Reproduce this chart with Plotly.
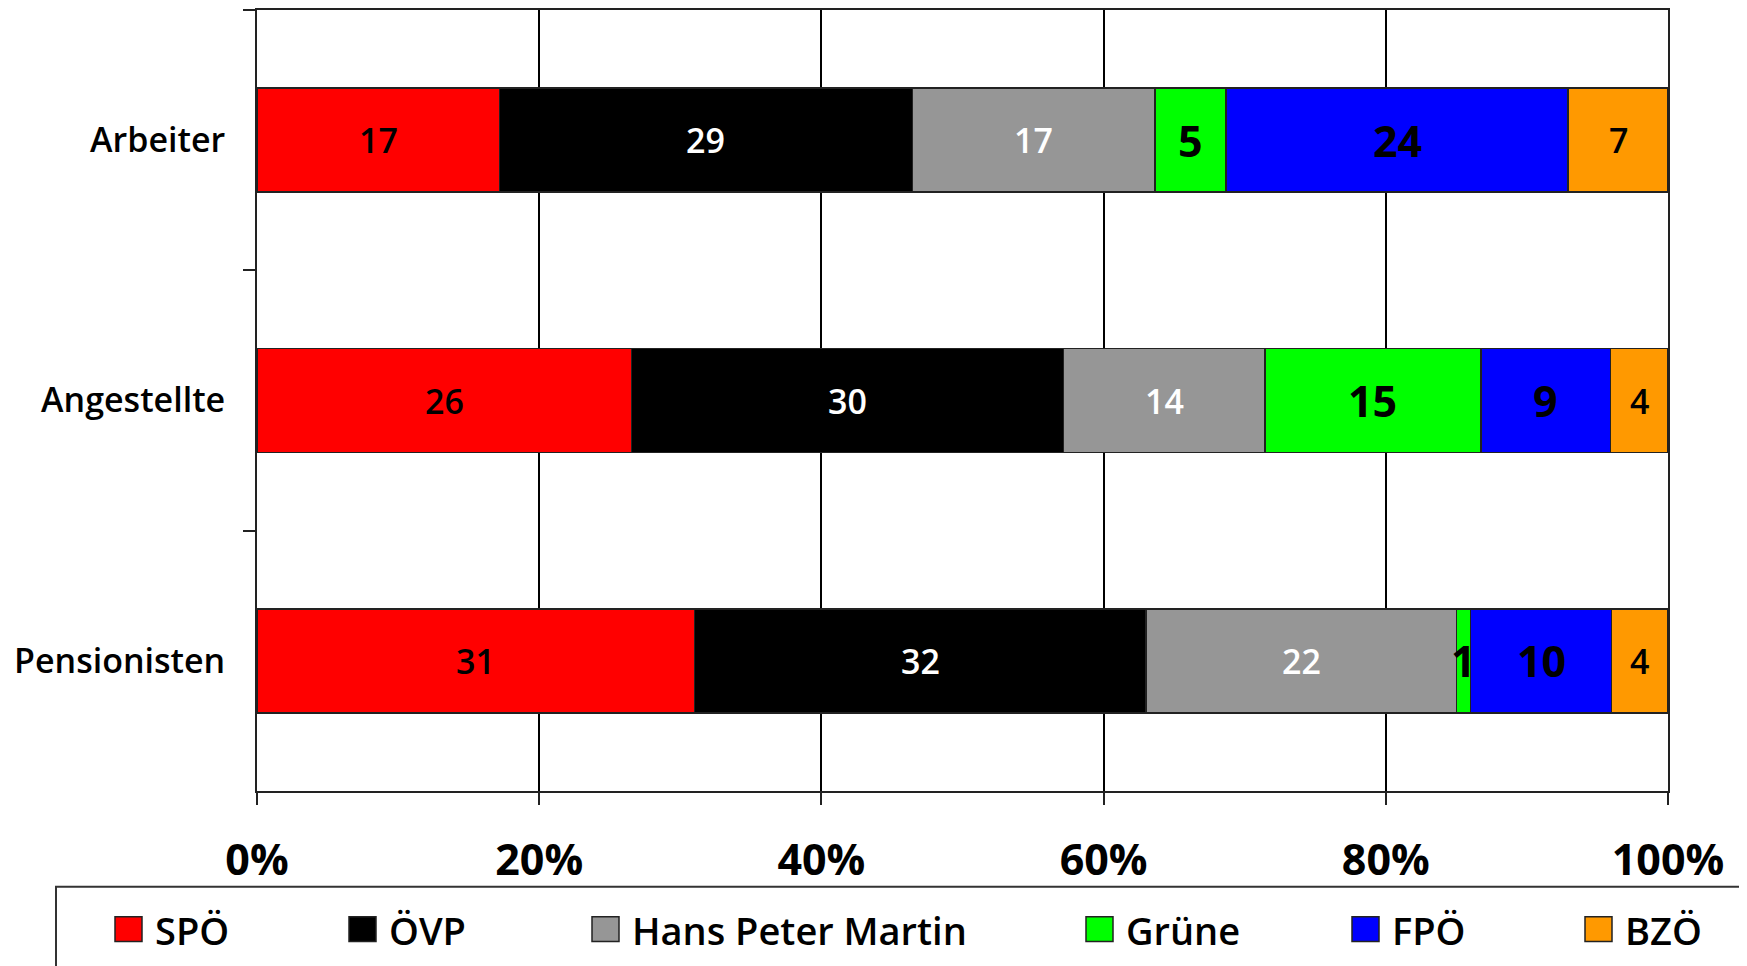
import plotly.graph_objects as go

categories = ["Arbeiter", "Angestellte", "Pensionisten"]
parties = ["SPÖ", "ÖVP", "Hans Peter Martin", "Grüne", "FPÖ", "BZÖ"]
spoe = [17, 26, 31]
oevp = [29, 30, 32]
hpm = [17, 14, 22]
gruene = [5, 15, 1]
fpoe = [24, 9, 10]
bzoe = [7, 4, 4]
x_ticks = [0, 20, 40, 60, 80, 100]
x_tick_labels = ["0%", "20%", "40%", "60%", "80%", "100%"]

series = [spoe, oevp, hpm, gruene, fpoe, bzoe]
colors = ["#FF0000", "#000000", "#969696", "#00FF00", "#0000FF", "#FF9900"]
label_colors = ["black", "white", "white", "black", "black", "black"]
label_sizes = [34, 34, 34, 43, 43, 34]
label_weights = [600, 600, 600, 700, 700, 600]

FONT = "Open Sans"
W, H = 1747, 966
OFF = 8  # page body margin
# plot area in page pixels: x 257..1668, y 8..791
L = 257 - OFF
T = 0
R = W - (1668 - OFF)
B = H - (791 - OFF)
PW, PH = W - L - R, H - T - B

fig = go.Figure()
for name, vals, col in zip(parties, series, colors):
    fig.add_trace(go.Bar(
        y=categories, x=vals, name=name, orientation="h",
        marker=dict(color=col, line=dict(color="#222222", width=1.5)),
        showlegend=False, hoverinfo="name+x",
    ))

# data labels centred on each segment (percent of the row total)
totals = [sum(s[i] for s in series) for i in range(len(categories))]
annotations = []
for i, cat in enumerate(categories):
    cum = 0
    for k, vals in enumerate(series):
        v = vals[i]
        mid = (cum + v / 2) / totals[i] * 100
        cum += v
        annotations.append(dict(
            x=mid, y=cat, xref="x", yref="y", text=str(v), showarrow=False,
            font=dict(family=FONT, size=label_sizes[k], color=label_colors[k],
                      weight=label_weights[k]),
            xanchor="center", yanchor="middle",
        ))

def xp(px):
    return (px - OFF - L) / PW

def yp(py):
    return (H - B - (py - OFF)) / PH

shapes = [dict(type="rect", xref="paper", yref="paper",
               x0=xp(56), x1=xp(W + 40), y0=yp(H + 40), y1=yp(887),
               line=dict(color="#333333", width=2), fillcolor="rgba(0,0,0,0)",
               layer="above")]
legend_x = [115, 349, 592, 1086, 1352, 1585]
for name, col, lx in zip(parties, colors, legend_x):
    shapes.append(dict(type="rect", xref="paper", yref="paper",
                       x0=xp(lx), x1=xp(lx + 27), y0=yp(942), y1=yp(917),
                       line=dict(color="#222222", width=1.5), fillcolor=col,
                       layer="above"))
    annotations.append(dict(x=xp(lx + 38), y=yp(930), xref="paper", yref="paper",
                            text=name, showarrow=False, xanchor="left", yanchor="middle",
                            font=dict(family=FONT, size=38, color="black", weight=600)))

fig.update_layout(
    barmode="stack", barnorm="percent", bargap=0.6,
    width=W, height=H,
    margin=dict(l=L, r=R, t=T, b=B, pad=0),
    paper_bgcolor="white", plot_bgcolor="white",
    font=dict(family=FONT, color="black"),
    annotations=annotations, shapes=shapes,
    showlegend=False,
)
fig.update_xaxes(
    range=[0, 100], tickvals=x_ticks, ticktext=x_tick_labels,
    showgrid=True, gridcolor="black", gridwidth=1.5,
    showline=True, linecolor="#222222", linewidth=2, mirror=True,
    ticks="outside", ticklen=12, tickcolor="#222222", tickwidth=2,
    tickfont=dict(family=FONT, size=43, color="black", weight=700),
    ticklabelstandoff=18, zeroline=False, fixedrange=True,
)
fig.update_yaxes(
    type="category", categoryorder="array", categoryarray=categories,
    autorange="reversed", tickson="boundaries",
    showgrid=False, showline=True, linecolor="#222222", linewidth=2, mirror=True,
    ticks="outside", ticklen=12, tickcolor="#222222", tickwidth=2,
    tickfont=dict(family=FONT, size=34, color="black", weight=600),
    ticklabelstandoff=23, fixedrange=True,
)

fig.write_html("out.html")
